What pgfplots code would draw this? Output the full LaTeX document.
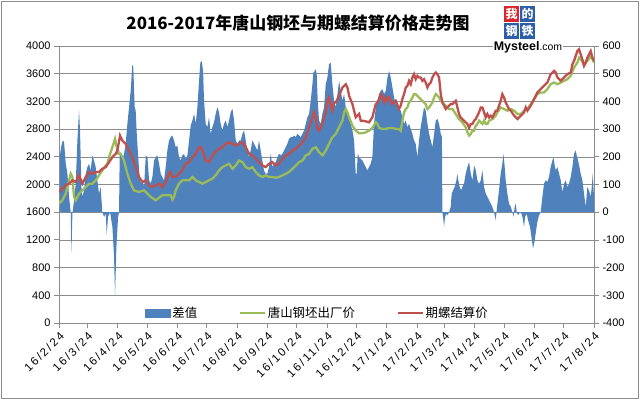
\documentclass[border=0pt]{standalone}
\usepackage{pgfplots}
\pgfplotsset{compat=1.18}
\usepackage{fontspec}
\setmainfont{Liberation Sans}
\newfontfamily\cjk{Noto Sans CJK SC}
\newfontfamily\tickfont[LetterSpace=18]{Liberation Sans}
\definecolor{sblue}{HTML}{4F81BD}
\definecolor{sgreen}{HTML}{9BBB59}
\definecolor{sred}{HTML}{C0504D}
\definecolor{gridc}{HTML}{8C8C8C}
\definecolor{logored}{HTML}{D9262C}
\definecolor{logoblue}{HTML}{2F5EA8}
\pgfplotsset{
  common/.style={
    at={(59bp,77bp)}, anchor=south west, width=535bp, height=277bp, scale only axis,
    xmin=0, xmax=547,
    axis line style={gridc, line width=0.8bp},
    tick style={gridc, line width=0.8bp},
    major tick length=5bp, tick align=outside,
    /pgf/number format/assume math mode=true,
    /pgf/number format/1000 sep={},
    yticklabel style={font=\fontsize{11}{12}\selectfont},
  }
}
\begin{document}
\begin{tikzpicture}
\useasboundingbox (0bp,0bp) rectangle (640bp,400bp);
\draw[gridc, line width=0.8bp] (1.5bp,1.5bp) rectangle (638.5bp,398.5bp);
\begin{axis}[common,
  ymin=-400, ymax=600,
  xtick pos=bottom, ytick pos=right, yticklabel pos=right,
  xtick={0,29,60,90,121,151,182,213,243,274,304,335,366,394,425,455,486,516,547},
  xticklabels={16/2/24,16/3/24,16/4/24,16/5/24,16/6/24,16/7/24,16/8/24,16/9/24,16/10/24,16/11/24,16/12/24,17/1/24,17/2/24,17/3/24,17/4/24,17/5/24,17/6/24,17/7/24,17/8/24},
  xticklabel style={rotate=45, anchor=north east, font=\tickfont\fontsize{11.5}{12}\selectfont, inner sep=2bp},
  ytick={-400,-300,-200,-100,0,100,200,300,400,500,600},
  ymajorgrids, grid style={gridc, line width=0.6bp},
]
\addplot[fill=sblue, draw=none] coordinates {
(0,0)(0,187)(2.8,247)(4.1,259)(5.2,253)(6.9,175)(8.6,139)(10.3,55)(12.0,0)(12.7,-149)(13.7,-5)(15.4,43)(17.1,103)(18.8,259)(20.5,367)(21.5,295)(22.9,91)(23.9,55)(25.6,79)(27.3,139)(29.0,163)(30.7,175)(32.4,151)(34.1,205)(35.8,187)(37.5,163)(39.2,115)(40.9,67)(42.6,91)(44.3,0)(46.1,-17)(47.8,-5)(48.8,-83)(50.1,-17)(52.2,0)(54.6,-53)(56.3,-161)(57.3,-304)(58.7,-125)(60.4,-17)(61.4,0)(62.1,223)(64.8,187)(66.5,211)(68.2,247)(69.9,319)(71.6,379)(73.3,438)(75.0,534)(76.0,522)(77.4,379)(78.4,367)(79.5,283)(81.2,187)(82.5,127)(83.9,103)(85.3,115)(87.0,91)(88.7,205)(90.4,199)(92.1,115)(93.8,103)(95.5,127)(97.2,187)(98.9,199)(100.6,205)(102.3,175)(104.0,139)(105.7,127)(107.4,115)(109.1,163)(110.8,223)(112.5,259)(114.2,271)
(115.9,277)(117.6,259)(119.3,235)(121.0,241)(122.7,199)(124.4,187)(126.1,205)(127.8,211)(129.5,193)(131.3,205)(133.0,259)(134.7,313)(136.4,331)(138.1,355)(139.8,319)(141.5,379)(143.2,474)(144.5,540)(145.9,546)(147.3,510)(148.3,403)(150.0,319)(151.7,307)(153.4,343)(155.1,283)(156.8,307)(158.5,325)(160.2,355)(161.9,379)(163.6,361)(165.3,319)(167.0,295)(168.7,319)(170.5,331)(172.2,307)(173.9,331)(175.6,361)(177.3,373)(179.0,331)(180.7,259)(182.4,247)(184.1,259)(185.8,259)(187.5,283)(189.2,295)(190.9,259)(192.6,223)(194.3,199)(196.0,223)(197.7,259)(199.4,247)(201.1,235)(202.8,223)(204.5,259)(206.2,223)(207.9,187)(209.6,151)(211.3,139)(213.0,139)(214.7,163)(216.5,211)(218.2,163)(219.9,175)(221.6,181)(223.3,199)(225.0,211)
(226.7,205)(228.4,211)(230.1,223)(231.8,235)(233.5,247)(235.2,265)(236.9,271)(238.6,271)(240.3,277)(242.1,271)(243.8,283)(245.5,277)(247.2,271)(248.9,283)(250.6,295)(252.3,319)(254.0,343)(255.7,355)(257.4,403)(259.1,462)(260.1,504)(261.5,510)(262.5,516)(263.5,498)(264.5,403)(265.9,331)(267.6,319)(269.3,355)(271.0,379)(272.7,462)(274.4,486)(276.1,534)(277.8,540)(279.5,462)(281.2,403)(283.0,379)(284.7,427)(286.4,474)(288.1,438)(289.8,403)(291.5,427)(293.2,379)(294.9,355)(296.6,343)(298.3,319)(300.0,295)(301.7,259)(303.4,139)(304.4,139)(305.4,211)(306.8,199)(308.5,193)(310.2,187)(311.9,175)(313.6,163)(315.3,151)(317.0,163)(318.7,175)(320.4,199)(322.1,319)(323.9,379)(325.6,403)(327.3,427)(329.0,438)(330.7,444)(332.4,427)(334.1,438)(335.8,486)(337.5,510)(339.2,486)
(340.9,450)(342.6,414)(344.3,391)(346.0,385)(347.7,373)(349.4,367)(351.1,343)(352.8,319)(354.5,331)(356.2,307)(357.9,319)(359.6,301)(361.3,283)(363.0,259)(364.7,247)(366.4,199)(368.1,259)(369.8,307)(371.5,343)(373.2,379)(374.9,367)(376.7,319)(378.4,283)(380.1,259)(381.8,235)(383.5,283)(385.2,331)(386.9,337)(388.6,319)(390.3,283)(391.5,271)(392.0,0)(392.7,-17)(393.7,-53)(394.7,-17)(396.1,-5)(397.4,-11)(398.8,0)(400.5,19)(401.5,67)(402.9,79)(404.6,91)(406.3,115)(407.3,139)(408.3,115)(409.7,91)(411.1,79)(412.4,91)(414.1,103)(415.8,139)(417.6,163)(419.3,181)(421.0,139)(422.7,115)(424.4,169)(426.1,151)(427.8,115)(429.5,103)(431.2,115)(432.9,151)(434.6,91)(436.3,67)(438.0,55)(439.7,43)(441.4,31)(443.1,19)(444.8,0)(446.5,-29)
(448.2,31)(449.9,79)(451.6,139)(453.3,175)(454.4,211)(455.7,163)(456.7,115)(458.4,67)(460.1,31)(461.9,19)(463.6,0)(464.6,-17)(465.9,19)(467.0,31)(468.0,0)(469.3,-11)(471.4,0)(472.8,-5)(473.8,-17)(475.5,-53)(476.5,-17)(478.2,-5)(479.6,-29)(481.6,-53)(483.0,-89)(484.7,-131)(486.4,-101)(487.8,-65)(489.1,-35)(490.8,-11)(492.5,0)(494.2,55)(495.9,103)(497.6,115)(499.3,109)(501.0,127)(502.7,163)(504.5,187)(505.5,199)(506.8,169)(507.9,151)(509.6,163)(511.3,139)(513.0,115)(514.7,73)(516.4,103)(518.1,115)(519.8,91)(521.5,103)(523.2,127)(524.9,163)(526.6,211)(528.3,223)(529.3,205)(530.7,187)(532.1,163)(533.4,139)(535.1,115)(536.8,67)(538.5,19)(540.2,91)(541.9,79)(543.6,55)(544.7,91)(545.7,139)(547,55)(547,0)
} \closedcycle;
\end{axis}
\begin{axis}[common,
  ymin=0, ymax=4000,
  xtick=\empty, ytick pos=left, yticklabel pos=left,
  ytick={0,400,800,1200,1600,2000,2400,2800,3200,3600,4000},
  legend style={at={(0.483,0.036)}, anchor=center, draw=none, fill=none,
    legend columns=3, font=\cjk\fontsize{12.5}{14}\selectfont,
    /tikz/every even column/.append style={column sep=40bp}},
  legend image code/.code={\draw[#1, line width=1.6bp] (0bp,0bp) -- (25bp,0bp);},
]
\addlegendimage{legend image code/.code={\fill[sblue] (0bp,-4bp) rectangle (25bp,4bp);}}
\addlegendentry{差值}
\addplot[sgreen, line width=2.3bp] coordinates {
(0,1724)(3.4,1772)(6.9,1868)(10.3,2060)(12.0,2156)(13.7,2108)(15.4,1820)(17.1,1772)(20.5,1868)(23.9,1916)(27.3,1964)(30.7,2012)(34.1,2012)(37.5,2060)(40.9,2132)(44.3,2203)(47.8,2275)(49.5,2299)(51.2,2395)(54.6,2539)(57.3,2658)(59.0,2539)(60.7,2443)(63.1,2443)(66.5,2347)(69.9,2156)(73.3,2012)(76.7,1916)(81.8,1892)(87.0,1916)(93.8,1820)(98.9,1772)(105.7,1844)(114.2,1844)(115.9,1782)(117.6,1820)(119.3,1916)(122.7,2012)(126.1,2060)(129.5,2060)(133.0,2060)(136.4,2108)(139.8,2060)(143.2,2036)(146.6,2012)(150.0,2036)(153.4,2060)(156.8,2084)(160.2,2132)(163.6,2203)(167.0,2251)(170.5,2275)(173.9,2299)(177.3,2227)(180.7,2275)(184.1,2347)(187.5,2323)(190.9,2251)(194.3,2227)(197.7,2251)(201.1,2180)(204.5,2132)(207.9,2108)(211.3,2132)(214.7,2108)(218.2,2108)(221.6,2098)(225.0,2108)(228.4,2132)(231.8,2156)(235.2,2180)(238.6,2227)(242.1,2275)(245.5,2323)(248.9,2347)(252.3,2419)(255.7,2443)(259.1,2515)(262.5,2539)(265.9,2467)(269.3,2419)(272.7,2491)(276.1,2587)(279.5,2682)(283.0,2730)(286.4,2826)(289.8,2922)(291.5,3042)(293.2,3090)(294.9,3042)(296.6,2970)(300.0,2850)(303.4,2778)(306.8,2740)(310.2,2740)(313.6,2754)(317.0,2778)(320.4,2817)(323.9,2898)(325.6,2874)(327.3,2817)(330.7,2802)(334.1,2802)(337.5,2817)(340.9,2817)(344.3,2802)(347.7,2802)(349.4,2778)(351.1,2922)(352.8,3042)(354.5,3090)(356.2,3113)(357.9,3185)(359.6,3209)(361.3,3257)(363.0,3305)(364.7,3305)(366.4,3281)(368.1,3257)(371.5,3209)(374.9,3161)(376.7,3090)(378.4,3113)(381.8,3185)(383.5,3257)(385.2,3305)(386.9,3281)(388.6,3257)(390.3,3209)(392.0,3185)(395.4,3138)(398.8,3090)(402.2,3090)(405.6,3018)(409.0,2946)(412.4,2898)(415.8,2826)(417.6,2754)(419.3,2706)(421.0,2730)(422.7,2778)(424.4,2778)(426.1,2850)(427.8,2874)(429.5,2922)(431.2,2898)(432.9,2874)(434.6,2922)(436.3,2874)(438.0,2874)(439.7,2922)(443.1,2946)(446.5,2994)(448.2,3042)(451.6,3113)(455.0,3090)(458.4,3066)(461.9,3090)(465.3,3066)(468.7,3018)(472.1,3018)(475.5,3066)(478.9,3090)(482.3,3161)(485.7,3233)(489.1,3305)(492.5,3329)(495.9,3329)(499.3,3377)(502.7,3449)(506.2,3473)(509.6,3449)(513.0,3473)(516.4,3497)(519.8,3521)(523.2,3569)(526.6,3688)(530.0,3760)(531.7,3832)(533.4,3808)(536.8,3736)(540.2,3784)(543.6,3856)(545.4,3808)(547,3760)
};
\addlegendentry{唐山钢坯出厂价}
\addplot[sred, line width=2.3bp] coordinates {
(0,1892)(3.4,1940)(6.9,1988)(10.3,2012)(13.7,2060)(17.1,2036)(20.5,2132)(23.9,2012)(27.3,2108)(30.7,2180)(34.1,2156)(37.5,2180)(40.9,2180)(44.3,2227)(47.8,2251)(51.2,2323)(54.6,2395)(58.0,2443)(59.7,2491)(62.4,2706)(64.8,2635)(68.2,2587)(71.6,2491)(75.0,2395)(78.4,2251)(81.8,2108)(85.3,2036)(88.7,2060)(92.1,1988)(95.5,1964)(98.9,1988)(102.3,2012)(105.7,1964)(109.1,2036)(112.5,2156)(114.2,2180)(115.9,2108)(119.3,2108)(122.7,2156)(126.1,2203)(129.5,2299)(133.0,2323)(136.4,2395)(139.8,2443)(141.5,2491)(143.2,2539)(144.9,2539)(146.6,2491)(148.3,2419)(150.0,2347)(153.4,2323)(156.8,2419)(160.2,2467)(163.6,2515)(167.0,2539)(170.5,2587)(173.9,2610)(177.3,2587)(180.7,2563)(184.1,2587)(187.5,2610)(190.9,2539)(194.3,2443)(197.7,2419)(201.1,2371)(204.5,2323)(207.9,2275)(211.3,2251)(214.7,2299)(218.2,2323)(221.6,2275)(225.0,2299)(228.4,2371)(231.8,2419)(235.2,2443)(238.6,2491)(242.1,2515)(245.5,2563)(248.9,2610)(252.3,2682)(255.7,2826)(259.1,2970)(260.8,3042)(262.5,2970)(264.2,2802)(265.9,2778)(269.3,2874)(272.7,3042)(274.4,3209)(276.1,3257)(277.8,3138)(279.5,3066)(281.2,3185)(283.0,3185)(286.4,3281)(289.8,3401)(293.2,3449)(294.9,3401)(296.6,3281)(300.0,3161)(303.4,2970)(306.8,3018)(308.5,2922)(310.2,2922)(313.6,2912)(317.0,2898)(320.4,2970)(322.1,3066)(323.9,3161)(325.6,3185)(327.3,3233)(329.0,3305)(330.7,3257)(332.4,3185)(334.1,3257)(335.8,3209)(337.5,3257)(339.2,3209)(340.9,3161)(344.3,3209)(347.7,3090)(349.4,3138)(351.1,3233)(352.8,3305)(354.5,3401)(356.2,3425)(357.9,3497)(359.6,3449)(361.3,3545)(363.0,3593)(364.7,3521)(366.4,3569)(368.1,3545)(369.8,3545)(371.5,3497)(373.2,3521)(374.9,3473)(376.7,3401)(378.4,3449)(380.1,3473)(381.8,3545)(383.5,3593)(385.2,3617)(386.9,3593)(388.6,3545)(390.3,3305)(392.0,3185)(393.7,3138)(395.4,3090)(397.1,3113)(398.8,3138)(400.5,3161)(402.2,3161)(403.9,3185)(405.6,3209)(407.3,3113)(409.0,3018)(410.7,2970)(412.4,2946)(415.8,2898)(417.6,2874)(419.3,2817)(421.0,2874)(422.7,2874)(424.4,2922)(426.1,2946)(427.8,2994)(429.5,3042)(431.2,3113)(432.9,3113)(434.6,3042)(436.3,2970)(438.0,3018)(439.7,2970)(441.4,2994)(443.1,2970)(444.8,3018)(446.5,3066)(448.2,3066)(451.6,3209)(453.3,3305)(455.0,3257)(456.7,3185)(458.4,3138)(460.1,3090)(461.9,3066)(465.3,2994)(468.7,2946)(472.1,2994)(475.5,3042)(477.2,3113)(478.9,3066)(482.3,3138)(484.0,3185)(485.7,3233)(489.1,3329)(492.5,3377)(495.9,3425)(499.3,3473)(502.7,3593)(506.2,3641)(507.9,3617)(509.6,3545)(513.0,3497)(516.4,3545)(519.8,3593)(523.2,3617)(524.9,3737)(526.6,3784)(528.3,3856)(530.0,3928)(531.7,3952)(533.4,3880)(535.1,3808)(536.8,3713)(538.5,3760)(540.2,3832)(541.9,3880)(543.6,3928)(545.4,3832)(547,3784)
};
\addlegendentry{期螺结算价}
\end{axis}
\node[font=\cjk\bfseries\fontsize{17}{20}\selectfont] at (298bp,377bp) {2016-2017年唐山钢坯与期螺结算价格走势图};
\fill[logored] (504bp,378bp) rectangle (519bp,394bp);
\fill[logoblue] (520bp,378bp) rectangle (535bp,394bp);
\fill[logoblue] (504bp,361bp) rectangle (519bp,377bp);
\fill[logoblue] (520bp,361bp) rectangle (535bp,377bp);
\node[font=\cjk\bfseries\fontsize{12}{12}\selectfont, text=white, inner sep=0] at (511.5bp,386bp) {我};
\node[font=\cjk\bfseries\fontsize{12}{12}\selectfont, text=white, inner sep=0] at (527.5bp,386bp) {的};
\node[font=\cjk\bfseries\fontsize{12}{12}\selectfont, text=white, inner sep=0] at (511.5bp,369bp) {钢};
\node[font=\cjk\bfseries\fontsize{12}{12}\selectfont, text=white, inner sep=0] at (527.5bp,369bp) {铁};
\node[fill=white, inner sep=1bp, anchor=center] at (528bp,353bp) {\fontsize{12.5}{13}\selectfont\bfseries Mysteel\fontsize{10.5}{12}\selectfont\mdseries .com};
\end{tikzpicture}
\end{document}
